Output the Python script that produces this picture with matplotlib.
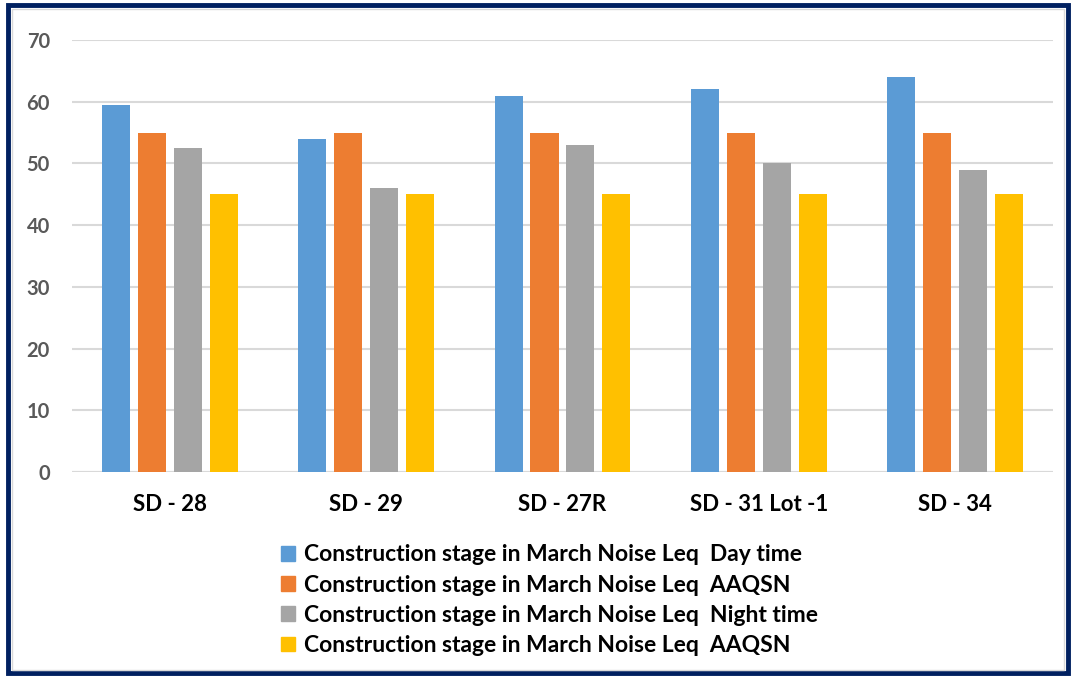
import numpy as np
import matplotlib.pyplot as plt
from matplotlib.patches import Rectangle, Patch

plt.rcParams['font.family'] = ['Lato', 'DejaVu Sans']

sites = ['SD - 28', 'SD - 29', 'SD - 27R', 'SD - 31 Lot -1', 'SD - 34']
series_names = ['Construction stage in March Noise Leq  Day time',
                'Construction stage in March Noise Leq  AAQSN',
                'Construction stage in March Noise Leq  Night time',
                'Construction stage in March Noise Leq  AAQSN']
day_time = [59.4, 54, 61, 62, 64]
aaqsn_day = [55, 55, 55, 55, 55]
night_time = [52.5, 46, 53, 50, 49]
aaqsn_night = [45, 45, 45, 45, 45]
y_ticks = [0, 10, 20, 30, 40, 50, 60, 70]

colors = ['#5B9BD5', '#ED7D31', '#A5A5A5', '#FFC000']

fig = plt.figure(figsize=(10.76, 6.78), dpi=100)
ax = fig.add_axes([0.0669, 0.3038, 0.9117, 0.6372])

x = np.arange(len(sites))
width = 0.143
step = 0.183
all_series = [day_time, aaqsn_day, night_time, aaqsn_night]
for i, vals in enumerate(all_series):
    ax.bar(x + (i - 1.5) * step, vals, width, color=colors[i], zorder=3)

ax.set_xlim(-0.5, len(sites) - 0.5)
ax.set_ylim(0, 70)
ax.set_yticks(y_ticks)
ax.set_yticklabels([str(t) for t in y_ticks], fontsize=14.5, fontweight='bold', color='#595959')
ax.set_xticks(x)
ax.set_xticklabels(sites, fontsize=16, fontweight='bold', color='black')
ax.tick_params(axis='both', length=0)
ax.tick_params(axis='x', pad=16)
ax.tick_params(axis='y', pad=16)
ax.grid(axis='y', color='#D9D9D9', linewidth=1.5, zorder=0)
for s in ax.spines.values():
    s.set_visible(False)
ax.axhline(0, color='#D9D9D9', linewidth=1.5, zorder=2)

handles = [Patch(color=c) for c in colors]
fig.legend(handles, series_names, loc='upper left', bbox_to_anchor=(0.261, 0.197),
           frameon=False, prop={'size': 16.5, 'weight': 'bold'},
           handlelength=0.6, handleheight=0.6, handletextpad=0.4,
           labelspacing=0.4, borderpad=0, borderaxespad=0)

# navy frame around the whole picture
fig.patches.append(Rectangle((0.0075, 0.007), 0.985, 0.985, transform=fig.transFigure,
                             fill=False, edgecolor='#002060', linewidth=3.5))
fig.patches.append(Rectangle((0.0115, 0.012), 0.977, 0.975, transform=fig.transFigure,
                             fill=False, edgecolor='#D9D9D9', linewidth=1))

fig.savefig('out.png', dpi=100)
